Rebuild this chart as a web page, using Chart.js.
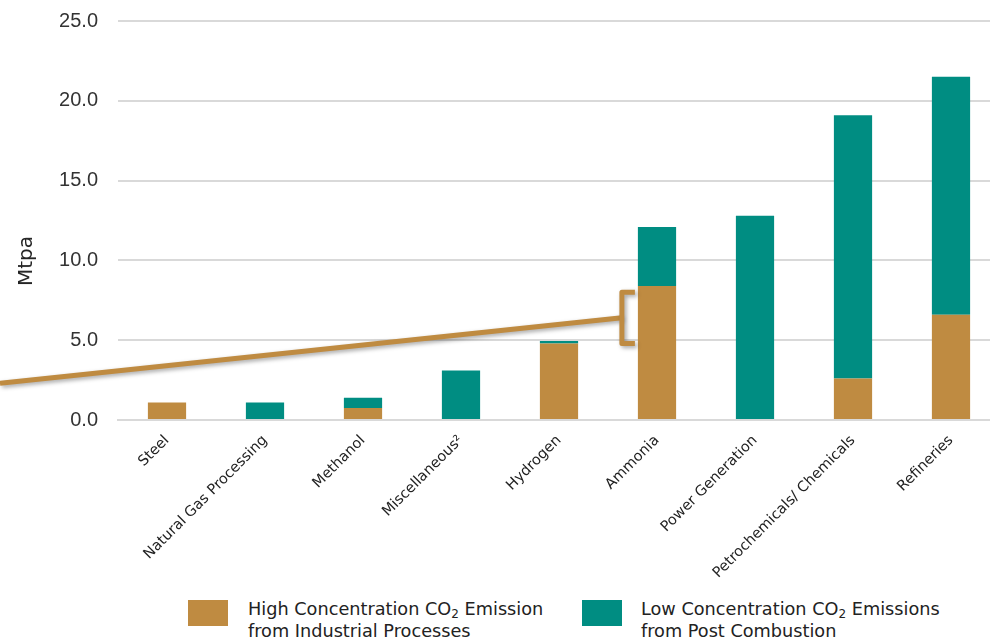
<!DOCTYPE html>
<html>
<head>
<meta charset="utf-8">
<script src="https://cdn.jsdelivr.net/npm/chart.js@4.4.1/dist/chart.umd.min.js"></script>
<style>
  html, body { margin: 0; padding: 0; background: #fff; overflow: hidden; width: 990px; height: 641px; }
  #wrap { position: absolute; left: 0; top: -11px; width: 1000px; height: 601px; }
  .legend { position: absolute; top: 598px; font-family: "DejaVu Sans", sans-serif; font-size: 17.7px; line-height: 22px; color: #222; }
  .legend .box { position: absolute; top: 2px; width: 40px; height: 26px; }
  .legend .txt { position: absolute; white-space: nowrap; }
  .legend sub { font-size: 12px; vertical-align: -3px; line-height: 0; }
  #ytitle { position: absolute; left: 25px; top: 261px; transform: translate(-50%, -50%) rotate(-90deg);
            font-family: "DejaVu Sans", sans-serif; font-size: 20px; color: #222; white-space: nowrap; }
</style>
</head>
<body>
<div id="wrap"><canvas id="chart"></canvas></div>
<div id="ytitle">Mtpa</div>

<div class="legend" style="left:188px">
  <div class="box" style="background:#BF8B41"></div>
  <div class="txt" style="left:60px">High Concentration CO<sub>2</sub> Emission<br>from Industrial Processes</div>
</div>
<div class="legend" style="left:582px">
  <div class="box" style="background:#008D82"></div>
  <div class="txt" style="left:59px">Low Concentration CO<sub>2</sub> Emissions<br>from Post Combustion</div>
</div>

<script>
const categories = [
  "Steel", "Natural Gas Processing", "Methanol", "Miscellaneous\u00B2", "Hydrogen",
  "Ammonia", "Power Generation", "Petrochemicals/ Chemicals", "Refineries"
];
const highConc = [1.1, 0, 0.75, 0, 4.8, 8.4, 0, 2.6, 6.6];
const lowConc = [0, 1.1, 0.65, 3.1, 0.15, 3.7, 12.8, 16.5, 14.9];
const yTicks = [0, 5, 10, 15, 20, 25];

// callout: line from left edge into a bracket beside the Ammonia bar
const calloutIndex = 5;
const calloutTop = 8.0;
const calloutBottom = 4.8;
const calloutStartValue = 2.3;

const BROWN = "#BF8B41";
const TEAL = "#008D82";

const calloutPlugin = {
  id: "callout",
  afterDatasetsDraw(chart) {
    const { ctx, scales: { y } } = chart;
    const bar = chart.getDatasetMeta(0).data[calloutIndex];
    const barLeft = bar.x - bar.width / 2;
    const bx = barLeft - 16;
    const armX = barLeft - 3;
    const yTop = y.getPixelForValue(calloutTop);
    const yBot = y.getPixelForValue(calloutBottom);
    const yMid = y.getPixelForValue((calloutTop + calloutBottom) / 2);
    ctx.save();
    ctx.strokeStyle = BROWN;
    ctx.lineWidth = 5;
    ctx.lineJoin = "round";
    ctx.shadowColor = "rgba(0,0,0,0.35)";
    ctx.shadowBlur = 4;
    ctx.shadowOffsetX = 2;
    ctx.shadowOffsetY = 2;
    ctx.beginPath();
    ctx.moveTo(0, y.getPixelForValue(calloutStartValue));
    ctx.lineTo(bx, yMid);
    ctx.stroke();
    ctx.beginPath();
    ctx.moveTo(armX, yTop);
    ctx.lineTo(bx, yTop);
    ctx.lineTo(bx, yBot);
    ctx.lineTo(armX, yBot);
    ctx.stroke();
    ctx.restore();
  }
};

const ctx = document.getElementById("chart");
new Chart(ctx, {
  type: "bar",
  data: {
    labels: categories,
    datasets: [
      {
        label: "High Concentration CO\u2082 Emission from Industrial Processes",
        data: highConc,
        backgroundColor: BROWN,
        barPercentage: 0.39,
        categoryPercentage: 1
      },
      {
        label: "Low Concentration CO\u2082 Emissions from Post Combustion",
        data: lowConc,
        backgroundColor: TEAL,
        barPercentage: 0.39,
        categoryPercentage: 1
      }
    ]
  },
  options: {
    responsive: true,
    maintainAspectRatio: false,
    animation: false,
    layout: { padding: { top: 10, left: 0, right: 0, bottom: 0 } },
    plugins: {
      legend: { display: false },
      tooltip: { enabled: false }
    },
    scales: {
      x: {
        stacked: true,
        afterFit(scale) { scale.height = 170; },
        grid: { display: false },
        border: { color: "#D9D9D9", width: 2 },
        ticks: {
          color: "#222",
          font: { family: "'DejaVu Sans', sans-serif", size: 14.5 },
          minRotation: 45,
          maxRotation: 45,
          padding: 4,
          autoSkip: false
        }
      },
      y: {
        stacked: true,
        min: 0,
        max: 25,
        afterFit(scale) { scale.width = 118; },
        afterBuildTicks(scale) { scale.ticks = yTicks.map(v => ({ value: v })); },
        grid: { color: "#D9D9D9", lineWidth: 2, drawTicks: false },
        border: { display: false },
        ticks: {
          color: "#333",
          padding: 20,
          font: { family: "'Liberation Sans', Arial, sans-serif", size: 20 },
          callback: v => v.toFixed(1)
        }
      }
    }
  },
  plugins: [calloutPlugin]
});
</script>
</body>
</html>
